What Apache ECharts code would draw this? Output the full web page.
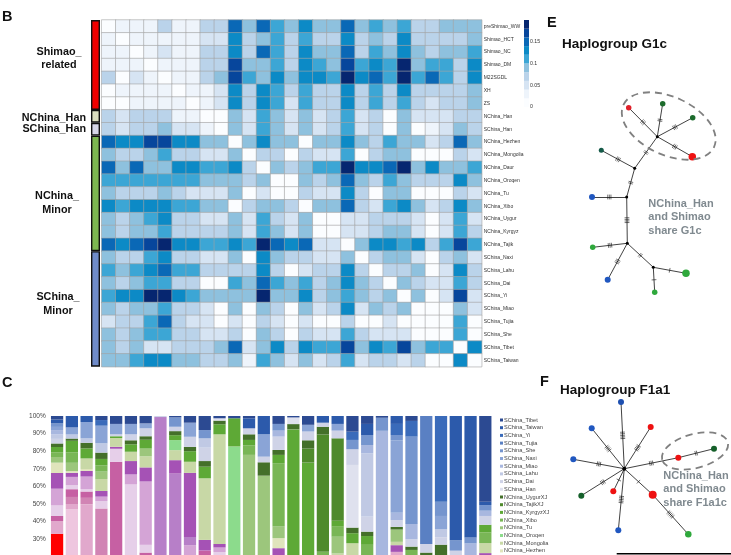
<!DOCTYPE html>
<html><head><meta charset="utf-8">
<style>html,body{margin:0;padding:0;background:#fff}#c{width:731px;height:555px}</style>
<script src="https://cdn.jsdelivr.net/npm/echarts@6/dist/echarts.min.js"></script>
</head><body><div id="c"></div>
<script>
// ---------- Panel B: heat map ----------
const heatRows = ['preShimao_WW','Shimao_HCT','Shimao_NC','Shimao_DM','M22SGDL','XH','ZS','NChina_Han','SChina_Han','NChina_Hezhen','NChina_Mongolia','NChina_Daur','NChina_Oroqen','NChina_Tu','NChina_Xibo','NChina_Uygur','NChina_Kyrgyz','NChina_Tajik','SChina_Naxi','SChina_Lahu','SChina_Dai','SChina_Yi','SChina_Miao','SChina_Tujia','SChina_She','SChina_Tibet','SChina_Taiwan'];
const heatStep = 0.02;   // one colour level in the picture
const heatLevels = [
 [0,1,1,1,3,1,1,3,3,7,4,7,5,4,6,4,4,7,4,5,4,5,3,3,4,4,4],
 [1,0,1,1,1,1,1,2,2,6,3,4,5,3,5,3,3,6,3,4,3,6,3,3,3,3,4],
 [1,1,0,1,2,1,1,3,3,6,3,7,5,3,6,4,4,7,3,5,4,6,4,3,4,4,5],
 [1,1,1,0,1,1,1,3,3,8,4,4,5,3,6,5,4,8,5,6,5,9,4,5,5,3,6],
 [3,0,2,1,0,1,1,3,4,8,5,4,6,4,6,6,5,9,6,7,5,9,5,7,5,3,6],
 [0,1,1,1,1,0,1,1,2,6,3,6,5,3,5,3,3,6,3,5,3,6,3,3,3,3,4],
 [0,0,1,1,1,1,0,1,2,6,3,6,5,2,5,3,3,6,3,5,3,5,3,2,3,3,4],
 [3,2,3,3,3,1,1,0,0,4,2,5,4,2,4,2,3,5,2,3,0,4,2,2,2,3,3],
 [3,2,3,3,4,2,2,1,0,4,2,5,4,2,4,2,3,5,2,3,0,4,0,1,2,4,3],
 [7,6,6,8,8,6,6,4,4,0,4,6,4,4,0,4,4,6,4,3,5,4,4,2,3,7,4],
 [4,3,3,4,5,3,3,2,2,4,0,3,3,0,3,2,2,5,0,3,4,4,0,0,0,3,2],
 [7,4,7,4,4,6,6,5,5,6,3,0,4,3,4,5,5,9,6,6,7,9,4,6,4,4,5],
 [5,5,5,5,5,5,5,4,4,4,3,4,0,0,4,3,4,7,4,3,5,4,3,3,3,6,4],
 [4,3,3,3,4,3,2,2,2,4,0,2,0,0,3,2,2,6,3,0,4,4,0,0,0,3,2],
 [6,5,6,6,6,5,5,4,4,0,3,4,4,3,0,4,4,7,3,2,5,6,4,2,3,6,4],
 [4,3,4,5,6,3,3,2,2,4,2,5,3,2,4,0,0,2,2,3,3,3,2,0,2,5,2],
 [4,3,4,4,5,3,3,3,3,4,2,5,4,2,4,0,0,2,2,3,4,4,2,0,2,5,3],
 [7,6,7,8,9,6,6,5,5,6,5,9,7,6,7,2,2,0,4,6,6,5,6,3,5,8,5],
 [4,3,3,5,6,3,3,2,2,4,0,6,4,3,3,2,2,4,0,3,4,4,2,0,3,4,2],
 [5,4,5,6,7,5,5,3,3,3,3,6,3,0,2,3,3,6,3,0,3,3,4,0,2,6,3],
 [4,3,4,5,5,3,3,0,0,5,4,7,5,4,5,3,4,6,4,3,0,4,3,2,2,5,3],
 [5,6,6,9,9,6,5,4,4,4,4,9,4,4,6,3,4,5,4,3,4,0,4,0,2,8,2],
 [4,3,4,4,5,3,3,2,0,4,0,4,3,0,4,2,3,6,2,4,3,4,0,0,0,4,2],
 [2,3,3,5,7,3,2,2,0,2,0,3,2,0,2,0,0,3,0,0,2,0,0,0,0,5,0],
 [4,3,4,5,5,3,3,2,2,3,0,4,3,0,3,2,2,5,3,2,2,2,0,0,0,5,0],
 [4,3,4,2,2,3,3,3,4,7,2,4,6,3,6,5,5,8,4,6,5,8,4,5,5,0,6],
 [4,4,5,6,6,4,4,3,3,4,1,5,4,2,4,2,3,5,2,3,3,2,3,0,0,6,0]
];
const heatPalette = ['#fbfdff','#eef4fb','#d6e4f3','#bad3ea','#8ec1de','#3ca6d5','#0c8ac6','#0a68b6','#07469c','#062670'];
const colorbarTicks = [0,0.05,0.1,0.15];

// ---------- Panel B: row groups ----------
const groupNames = ['group Shimao related','group north Han','group south Han','group north minor','group south minor'];
const groupSizes = [7,1,1,9,9];
const groupColors = ['#f00000','#dcdfc0','#d6d6e8','#7db851','#6f8bc9'];

// ---------- Panel C: stacked composition, components listed from top of a bar to bottom ----------
const stackNames = ['SChina_Tibet','SChina_Taiwan','SChina_Yi','SChina_Tujia','SChina_She','SChina_Naxi','SChina_Miao','SChina_Lahu','SChina_Dai','SChina_Han','NChina_UygurXJ','NChina_TajikXJ','NChina_KyrgyzXJ','NChina_Xibo','NChina_Tu','NChina_Oroqen','NChina_Mongolia','NChina_Hezhen','NChina_Daur','NChina_Han','ZS','XH','M22SGDL','Shimao_DM','Shimao_NC','Shimao_HCT','preShimao_WW'];
const stackColors = ['#2c4a92','#2c5aab','#3a6bba','#5a80c3','#7595ce','#8aa4d6','#a8b7df','#c0c9e4','#cfd3e7','#dfe1ee','#44702a','#4f8a2c','#5ea936','#79b656','#9cc67c','#8cdb8c','#c8d8a6','#e0e4bc','#a552b5','#b77fc8','#d4a4d6','#e6cfe9','#c660a3','#d184b4','#e1a8cc','#eec6df','#ff0000'];
const legendNames = stackNames.slice(0,18);
const T=0,W=1,Y=2,J=3,S=4,X=5,M=6,L=7,D=8,H=9,U=10,K=11,G=12,B=13,O=14,R=15,N=16,Z=17,P1=18,P2=19,P3=20,P4=21,K1=22,K2=23,K3=24,K4=25,RD=26;
// [component, percent]; the last component of a bar runs on to the bottom of the bar
const bar00=[[T,2],[W,2.2],[S,2],[X,1.8],[M,2.5],[L,2.5],[D,2.6],[U,2],[G,3],[B,2.7],[O,3.2],[Z,5.9],[P1,8.9],[P3,9.5],[P4,6],[K1,2.9],[K3,7.2],[RD]];
const bar01=[[W,6.5],[X,4],[L,2.3],[U,1.3],[G,6.5],[B,6],[O,4.7],[Z,1],[P1,2.3],[P3,4.7],[P4,2.3],[K1,4.4],[K2,4],[K3,3],[K4]];
const bar02=[[W,3.4],[X,9.3],[L,2.5],[U,3.2],[G,5.7],[N,6],[Z,1.1],[P1,3.2],[P3,7.2],[P4,1.3],[K1,3.6],[K2,3.6],[K3]];
const bar03=[[T,2.3],[Y,3.2],[X,10],[L,5.3],[U,3.6],[G,3.6],[B,3.6],[O,4.2],[N,6.8],[P1,3.2],[P3,2.5],[P4,4.2],[K2]];
const bar04=[[T,4.5],[X,5.9],[D,1.1],[G,1],[N,5],[P1,1.1],[P4,7.4],[K1]];
const bar05=[[T,4.5],[X,5.9],[D,3.4],[U,2.3],[G,4.2],[N,5.3],[P1,7.6],[P3,5.7],[P4]];
const bar06=[[T,4.2],[X,2.8],[D,4.5],[U,2],[G,5],[O,4.4],[N,6.3],[P1,8],[P3,36],[P4,4.4],[K1]];
const bar07=[[D,0.6],[P2]];
const bar08=[[T,0.8],[S,5.3],[D,2.5],[U,2.3],[G,2.8],[R,5.7],[N,5.7],[P1,7.6],[P2]];
const bar09=[[T,3.8],[X,8],[D,5.7],[U,2.5],[G,6],[N,6.3],[P1,36.4],[P2,4.7],[P3]];
const bar10=[[T,8],[S,4.7],[L,5.3],[D,7.6],[U,3.2],[G,6.6],[N,35],[P1,6],[K1]];
const bar11=[[T,1.3],[H,1.3],[U,2.1],[G,5.7],[N,62.3],[P1,2],[P3,2.6],[P4]];
const bar12=[[T,1.3],[G,16],[R]];
const bar13=[[T,1.3],[W,5.7],[D,3.4],[U,3.2],[G,3.2],[B,5.3],[O]];
const bar14=[[W,10.4],[X,12.7],[D,3.2],[U,7.6],[O]];
const bar15=[[T,4.5],[S,3.8],[M,3.4],[D,7.6],[U,2.8],[G,4.7],[B,36],[O,6.6],[Z,5.7],[P1]];
const bar16=[[T,0.8],[H,3.8],[U,3],[G]];
const bar17=[[T,5],[X,3.8],[D,5],[U,4.7],[K,8],[G]];
const bar18=[[W,3.8],[D,2.3],[U,4.4],[K,66.7],[B]];
const bar19=[[W,4.5],[X,3.8],[D,4.4],[K,46.8],[G,3.4],[B,5.7],[O,9.5],[N]];
const bar20=[[T,8.9],[Y,4.7],[S,5.3],[D,8.9],[H,35.6],[U,3.2],[G,5.7],[N]];
const bar21=[[T,4.5],[W,6.3],[S,5.7],[M,4.7],[L,36],[D,8.5],[U,2.5],[G,5],[B]];
const bar22=[[T,1],[S,7.4],[M]];
const bar23=[[W,4.5],[Y,6.3],[S,3.2],[X,41],[M,4.2],[D,3.8],[U,1.5],[O,7],[N,1.9],[P1,3.8],[K3]];
const bar24=[[T,2.8],[Y,8.9],[S,49.6],[M,8.7],[D,4.2],[U,1.9],[B]];
const bar25=[[J,72.7],[D,4.9],[U]];
const bar26=[[Y,48.7],[S,8.1],[X,7.6],[L,4.5],[D,4.2],[U]];
const bar27=[[W,70.8],[S,5.7],[D]];
const bar28=[[W,69],[S,3.4],[M]];
const bar29=[[T,48.7],[W,1.9],[S,3.2],[M,3],[D,5],[G,4.4],[B,6],[N,5.7],[P1]];
const stackBars=[bar00,bar01,bar02,bar03,bar04,bar05,bar06,bar07,bar08,bar09,bar10,bar11,bar12,bar13,bar14,bar15,bar16,bar17,bar18,bar19,bar20,bar21,bar22,bar23,bar24,bar25,bar26,bar27,bar28,bar29];
const stackTickLabels=[30,40,50,60,70,80,90,100];

// ---------- Panels E and F: haplotype networks, read in page units ----------
const netG1cNodes=[[657.3,136.7,3,'#000'],[628.7,107.7,5.5,'#e0202a'],[662.7,103.7,5.5,'#1c6b2c'],[692.7,117.7,5.5,'#1c6b2c'],[692.3,156.7,7.5,'#ee1111'],[634.7,168.3,3,'#000'],[601.3,150.3,5,'#145a48'],[626.7,197,3,'#000'],[592,197,6,'#2057c0'],[627.3,243.3,3,'#000'],[592.7,247.3,5.5,'#2fa83c'],[607.7,279.7,6,'#2057c0'],[653.3,267.3,3,'#000'],[686,273.3,7.5,'#2fa83c'],[654.7,292.3,5.5,'#2fa83c']];
const netG1cEdges=[[0,1,3],[0,2,2],[0,3,3],[0,4,3],[0,5,2],[5,6,3],[5,7,2],[7,8,3],[7,9,4],[9,10,3],[9,11,3],[9,12,2],[12,13,1],[12,14,1]];
const netF1a1Nodes=[[624.3,468.7,4,'#000'],[621,402,6,'#1d4fb0'],[591.7,428.3,6,'#2057c0'],[650.7,427,6,'#ee1111'],[573.3,459.3,6,'#2057c0'],[581.3,495.7,6,'#15602a'],[613.3,491.3,6,'#ee1111'],[618.3,530.3,6,'#2057c0'],[652.7,494.7,8,'#ee1111'],[688.3,534.3,6.5,'#2fa83c'],[678.3,457.7,6,'#ee1111'],[714,448.7,6,'#15602a']];
const netF1a1Edges=[[0,1,5],[0,2,4],[0,3,4],[0,4,3],[0,5,3],[0,6,1],[0,7,5],[0,8,1],[8,9,5],[0,10,3],[10,11,2]];

// ---------- build ----------
const heatData=[];
heatLevels.forEach((row,r)=>row.forEach((lv,c)=>heatData.push([c,r,+(lv*heatStep).toFixed(2)])));
function stackColumn(compIdx){
  return stackBars.map(bar=>{
    let used=0,val=0;
    bar.forEach(e=>{ if(e[0]===compIdx) val=(e.length>1?e[1]:100-used); if(e.length>1) used+=e[1]; });
    return val;
  });
}
const font='"Liberation Sans",Arial,sans-serif';
const series=[];
series.push({type:'heatmap',xAxisIndex:0,yAxisIndex:0,data:heatData,
  itemStyle:{borderColor:'#a2a2a2',borderWidth:0.6},emphasis:{disabled:true}});
groupSizes.forEach((v,i)=>series.push({type:'bar',name:groupNames[i],xAxisIndex:1,yAxisIndex:1,stack:'groups',barWidth:'100%',data:[v],
  itemStyle:{color:groupColors[i],borderColor:'#111',borderWidth:1.4}}));
heatPalette.forEach(c=>series.push({type:'bar',name:'cb'+c,xAxisIndex:2,yAxisIndex:2,stack:'colorbar',barWidth:'100%',data:[heatStep],itemStyle:{color:c}}));
for(let i=stackNames.length-1;i>=0;i--){
  series.push({type:'bar',name:stackNames[i],xAxisIndex:3,yAxisIndex:3,stack:'composition',barCategoryGap:'17%',
    data:stackColumn(i),itemStyle:{color:stackColors[i]}});
}
function netSeries(nodes,edges){
  series.push({type:'graph',coordinateSystem:'cartesian2d',xAxisIndex:4,yAxisIndex:4,layout:'none',silent:true,
    data:nodes.map(n=>({value:[n[0],n[1]],symbolSize:n[2],itemStyle:{color:n[3]}})),
    links:edges.map(e=>({source:e[0],target:e[1]})),
    lineStyle:{color:'#111',width:0.8,opacity:1,curveness:0},label:{show:false}});
  series.push({type:'custom',coordinateSystem:'cartesian2d',xAxisIndex:4,yAxisIndex:4,silent:true,
    data:edges.map(e=>[nodes[e[0]][0],nodes[e[0]][1],nodes[e[1]][0],nodes[e[1]][1],e[2]]),
    renderItem:(p,api)=>{
      const a=api.coord([api.value(0),api.value(1)]),b=api.coord([api.value(2),api.value(3)]),n=api.value(4);
      const dx=b[0]-a[0],dy=b[1]-a[1],len=Math.hypot(dx,dy),ux=dx/len,uy=dy/len,mx=(a[0]+b[0])/2,my=(a[1]+b[1])/2;
      const kids=[];
      for(let i=0;i<n;i++){
        const off=(i-(n-1)/2)*1.6,cx=mx+ux*off,cy=my+uy*off;
        kids.push({type:'line',shape:{x1:cx-uy*2.4,y1:cy+ux*2.4,x2:cx+uy*2.4,y2:cy-ux*2.4},style:{stroke:'#111',lineWidth:0.6}});
      }
      return {type:'group',children:kids};
    }});
}
netSeries(netG1cNodes,netG1cEdges);
netSeries(netF1a1Nodes,netF1a1Edges);

const txt=(x,y,t,size,opt)=>Object.assign({type:'text',x,y,silent:true,z:50,
  style:Object.assign({text:t,font:'bold '+size+'px '+font,fill:'#111',textVerticalAlign:'middle',lineHeight:13.5},opt||{})});
const option={
  animation:false,backgroundColor:'#fff',textStyle:{fontFamily:font},
  grid:[
    {left:101.7,top:20,width:380,height:346.7,outerBoundsMode:'none'},
    {left:91,top:20,width:9,height:346.7,outerBoundsMode:'none'},
    {left:524,top:20,width:5,height:87,outerBoundsMode:'none'},
    {left:49.7,top:416,width:443,height:176,outerBoundsMode:'none'},
    {left:0,top:0,width:731,height:555,outerBoundsMode:'none'}
  ],
  xAxis:[
    {type:'category',gridIndex:0,data:heatRows,show:false},
    {type:'category',gridIndex:1,data:['g'],show:false},
    {type:'category',gridIndex:2,data:['c'],show:false},
    {type:'category',gridIndex:3,data:stackBars.map((b,i)=>i),show:false},
    {type:'value',gridIndex:4,min:0,max:731,show:false}
  ],
  yAxis:[
    {type:'category',gridIndex:0,data:heatRows,inverse:true,position:'right',axisLine:{show:false},axisTick:{show:false},
      axisLabel:{fontSize:5,color:'#333',margin:2,interval:0}},
    {type:'value',gridIndex:1,min:0,max:27,inverse:true,show:false},
    {type:'value',gridIndex:2,min:0,max:0.2,interval:0.05,position:'right',axisLine:{show:false},axisTick:{show:false},splitLine:{show:false},
      axisLabel:{fontSize:5.2,color:'#333',margin:1,formatter:v=>colorbarTicks.includes(+v.toFixed(2))?String(+v.toFixed(2)):''}},
    {type:'value',gridIndex:3,min:0,max:100,interval:10,axisLine:{show:false},axisTick:{show:false},splitLine:{show:false},
      axisLabel:{fontSize:6.5,color:'#444',margin:4,formatter:v=>stackTickLabels.includes(v)?v+'%':''}},
    {type:'value',gridIndex:4,min:0,max:555,inverse:true,show:false}
  ],
  visualMap:{show:false,type:'continuous',seriesIndex:0,min:0,max:0.18,dimension:2,inRange:{color:heatPalette}},
  legend:{orient:'vertical',left:500,top:417,height:150,padding:0,itemWidth:3,itemHeight:3,itemGap:1.7,icon:'rect',selectedMode:false,
    data:legendNames,textStyle:{fontSize:5.6,color:'#444',padding:[0,0,0,-4]}},
  series,
  graphic:[
    txt(2,17,'B',14.5),txt(2,383,'C',14.5),txt(547,23,'E',14.5),txt(540,382,'F',14.5),
    txt(562,44,'Haplogroup G1c',13.5),txt(560,390.5,'Haplogroup F1a1',13.5),
    txt(59,58.5,'Shimao_\nrelated',10.8,{textAlign:'center'}),
    txt(86,118,'NChina_Han',10.8,{textAlign:'right'}),
    txt(86,129.5,'SChina_Han',10.8,{textAlign:'right'}),
    txt(57,203,'NChina_\nMinor',10.8,{textAlign:'center'}),
    txt(58,304,'SChina_\nMinor',10.8,{textAlign:'center'}),
    txt(648.3,217.3,'NChina_Han\nand Shimao\nshare G1c',11,{fill:'#808a90'}),
    txt(663.3,489,'NChina_Han\nand Shimao\nshare F1a1c',11,{fill:'#808a90'}),
    {type:'ellipse',x:668.7,y:126,rotation:-25*Math.PI/180,silent:true,z:40,shape:{cx:0,cy:0,rx:50,ry:29},
      style:{fill:'none',stroke:'#808080',lineWidth:1.8,lineDash:[7,5]}},
    {type:'ellipse',x:695,y:451,rotation:15*Math.PI/180,silent:true,z:40,shape:{cx:0,cy:0,rx:34,ry:17},
      style:{fill:'none',stroke:'#808080',lineWidth:1.8,lineDash:[7,5]}},
    {type:'line',silent:true,z:40,shape:{x1:616.7,y1:553.8,x2:731,y2:553.8},style:{stroke:'#000',lineWidth:1.4}}
  ]
};
echarts.init(document.getElementById('c'),null,{renderer:'canvas'}).setOption(option);
</script></body></html>
